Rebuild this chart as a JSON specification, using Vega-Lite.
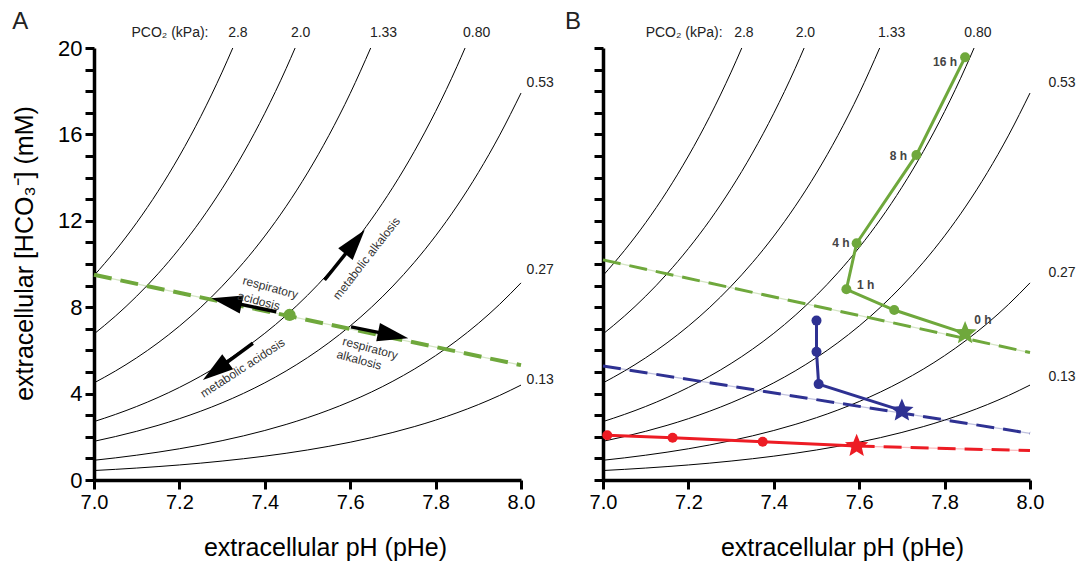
{
"$schema": "https://vega.github.io/schema/vega-lite/v6.json",
"background": "white",
"padding": {"left": 12, "top": 10, "right": 5, "bottom": 5},
"spacing": 11,
"config": {"font": "Liberation Sans", "view": {"stroke": null}, "axis": {"grid": false, "domainColor": "black", "tickColor": "black", "labelColor": "black", "titleColor": "black", "titleFontWeight": "normal", "domainWidth": 3.5, "tickWidth": 3, "tickSize": 9, "labelFlush": false}},
"datasets": {
"iso": [
{"P":"2.8","pH":7.00,"hco3":9.464},{"P":"2.8","pH":7.05,"hco3":10.619},{"P":"2.8","pH":7.10,"hco3":11.914},{"P":"2.8","pH":7.15,"hco3":13.368},{"P":"2.8","pH":7.20,"hco3":15.0},{"P":"2.8","pH":7.25,"hco3":16.829},{"P":"2.8","pH":7.30,"hco3":18.883},{"P":"2.8","pH":7.325,"hco3":20.0},
{"P":"2.0","pH":7.00,"hco3":6.76},{"P":"2.0","pH":7.05,"hco3":7.585},{"P":"2.0","pH":7.10,"hco3":8.51},{"P":"2.0","pH":7.15,"hco3":9.549},{"P":"2.0","pH":7.20,"hco3":10.714},{"P":"2.0","pH":7.25,"hco3":12.021},{"P":"2.0","pH":7.30,"hco3":13.488},{"P":"2.0","pH":7.35,"hco3":15.134},{"P":"2.0","pH":7.40,"hco3":16.98},{"P":"2.0","pH":7.45,"hco3":19.052},{"P":"2.0","pH":7.471,"hco3":20.0},
{"P":"1.33","pH":7.00,"hco3":4.495},{"P":"1.33","pH":7.05,"hco3":5.044},{"P":"1.33","pH":7.10,"hco3":5.659},{"P":"1.33","pH":7.15,"hco3":6.35},{"P":"1.33","pH":7.20,"hco3":7.125},{"P":"1.33","pH":7.25,"hco3":7.994},{"P":"1.33","pH":7.30,"hco3":8.97},{"P":"1.33","pH":7.35,"hco3":10.064},{"P":"1.33","pH":7.40,"hco3":11.292},{"P":"1.33","pH":7.45,"hco3":12.67},{"P":"1.33","pH":7.50,"hco3":14.216},{"P":"1.33","pH":7.55,"hco3":15.95},{"P":"1.33","pH":7.60,"hco3":17.897},{"P":"1.33","pH":7.648,"hco3":20.0},
{"P":"0.80","pH":7.00,"hco3":2.704},{"P":"0.80","pH":7.05,"hco3":3.034},{"P":"0.80","pH":7.10,"hco3":3.404},{"P":"0.80","pH":7.15,"hco3":3.82},{"P":"0.80","pH":7.20,"hco3":4.286},{"P":"0.80","pH":7.25,"hco3":4.808},{"P":"0.80","pH":7.30,"hco3":5.395},{"P":"0.80","pH":7.35,"hco3":6.054},{"P":"0.80","pH":7.40,"hco3":6.792},{"P":"0.80","pH":7.45,"hco3":7.621},{"P":"0.80","pH":7.50,"hco3":8.551},{"P":"0.80","pH":7.55,"hco3":9.594},{"P":"0.80","pH":7.60,"hco3":10.765},{"P":"0.80","pH":7.65,"hco3":12.078},{"P":"0.80","pH":7.70,"hco3":13.552},{"P":"0.80","pH":7.75,"hco3":15.206},{"P":"0.80","pH":7.80,"hco3":17.061},{"P":"0.80","pH":7.85,"hco3":19.143},{"P":"0.80","pH":7.869,"hco3":20.0},
{"P":"0.53","pH":7.00,"hco3":1.791},{"P":"0.53","pH":7.05,"hco3":2.01},{"P":"0.53","pH":7.10,"hco3":2.255},{"P":"0.53","pH":7.15,"hco3":2.53},{"P":"0.53","pH":7.20,"hco3":2.839},{"P":"0.53","pH":7.25,"hco3":3.186},{"P":"0.53","pH":7.30,"hco3":3.574},{"P":"0.53","pH":7.35,"hco3":4.01},{"P":"0.53","pH":7.40,"hco3":4.5},{"P":"0.53","pH":7.45,"hco3":5.049},{"P":"0.53","pH":7.50,"hco3":5.665},{"P":"0.53","pH":7.55,"hco3":6.356},{"P":"0.53","pH":7.60,"hco3":7.132},{"P":"0.53","pH":7.65,"hco3":8.002},{"P":"0.53","pH":7.70,"hco3":8.978},{"P":"0.53","pH":7.75,"hco3":10.074},{"P":"0.53","pH":7.80,"hco3":11.303},{"P":"0.53","pH":7.85,"hco3":12.682},{"P":"0.53","pH":7.90,"hco3":14.23},{"P":"0.53","pH":7.95,"hco3":15.966},{"P":"0.53","pH":8.00,"hco3":17.914},
{"P":"0.27","pH":7.00,"hco3":0.913},{"P":"0.27","pH":7.05,"hco3":1.024},{"P":"0.27","pH":7.10,"hco3":1.149},{"P":"0.27","pH":7.15,"hco3":1.289},{"P":"0.27","pH":7.20,"hco3":1.446},{"P":"0.27","pH":7.25,"hco3":1.623},{"P":"0.27","pH":7.30,"hco3":1.821},{"P":"0.27","pH":7.35,"hco3":2.043},{"P":"0.27","pH":7.40,"hco3":2.292},{"P":"0.27","pH":7.45,"hco3":2.572},{"P":"0.27","pH":7.50,"hco3":2.886},{"P":"0.27","pH":7.55,"hco3":3.238},{"P":"0.27","pH":7.60,"hco3":3.633},{"P":"0.27","pH":7.65,"hco3":4.076},{"P":"0.27","pH":7.70,"hco3":4.574},{"P":"0.27","pH":7.75,"hco3":5.132},{"P":"0.27","pH":7.80,"hco3":5.758},{"P":"0.27","pH":7.85,"hco3":6.461},{"P":"0.27","pH":7.90,"hco3":7.249},{"P":"0.27","pH":7.95,"hco3":8.134},{"P":"0.27","pH":8.00,"hco3":9.126},
{"P":"0.13","pH":7.00,"hco3":0.439},{"P":"0.13","pH":7.05,"hco3":0.493},{"P":"0.13","pH":7.10,"hco3":0.553},{"P":"0.13","pH":7.15,"hco3":0.621},{"P":"0.13","pH":7.20,"hco3":0.696},{"P":"0.13","pH":7.25,"hco3":0.781},{"P":"0.13","pH":7.30,"hco3":0.877},{"P":"0.13","pH":7.35,"hco3":0.984},{"P":"0.13","pH":7.40,"hco3":1.104},{"P":"0.13","pH":7.45,"hco3":1.238},{"P":"0.13","pH":7.50,"hco3":1.39},{"P":"0.13","pH":7.55,"hco3":1.559},{"P":"0.13","pH":7.60,"hco3":1.749},{"P":"0.13","pH":7.65,"hco3":1.963},{"P":"0.13","pH":7.70,"hco3":2.202},{"P":"0.13","pH":7.75,"hco3":2.471},{"P":"0.13","pH":7.80,"hco3":2.772},{"P":"0.13","pH":7.85,"hco3":3.111},{"P":"0.13","pH":7.90,"hco3":3.49},{"P":"0.13","pH":7.95,"hco3":3.916},{"P":"0.13","pH":8.00,"hco3":4.394}
],
"labelsA": [
{"label":"PCO₂ (kPa):","pH":7.178,"hco3":20.7},{"label":"2.8","pH":7.337,"hco3":20.7},{"label":"2.0","pH":7.484,"hco3":20.7},{"label":"1.33","pH":7.678,"hco3":20.7},{"label":"0.80","pH":7.896,"hco3":20.7},
{"label":"0.53","pH":8.045,"hco3":18.38},{"label":"0.27","pH":8.045,"hco3":9.72},{"label":"0.13","pH":8.045,"hco3":4.63}
],
"labelsB": [
{"label":"PCO₂ (kPa):","pH":7.19,"hco3":20.7},{"label":"2.8","pH":7.33,"hco3":20.7},{"label":"2.0","pH":7.474,"hco3":20.7},{"label":"1.33","pH":7.676,"hco3":20.7},{"label":"0.80","pH":7.878,"hco3":20.7},
{"label":"0.53","pH":8.075,"hco3":18.38},{"label":"0.27","pH":8.075,"hco3":9.58},{"label":"0.13","pH":8.075,"hco3":4.77}
],
"panelA": [{"label":"A","pH":6.827,"hco3":21.2}],
"panelB": [{"label":"B","pH":6.93,"hco3":21.2}],
"bufferA": [{"pH":7.0,"hco3":9.5},{"pH":8.0,"hco3":5.32}],
"arrows": [
{"name":"ra","pH":7.427,"hco3":7.79,"pH2":7.298,"hco32":8.32},
{"name":"ma","pH":7.372,"hco3":6.33,"pH2":7.274,"hco32":4.9},
{"name":"mk","pH":7.54,"hco3":9.26,"pH2":7.619,"hco32":11.21},
{"name":"rk","pH":7.602,"hco3":7.09,"pH2":7.712,"hco32":6.65}
],
"heads": [
{"name":"ra","pH":7.275,"hco3":8.41},
{"name":"ma","pH":7.255,"hco3":4.63},
{"name":"mk","pH":7.634,"hco3":11.57},
{"name":"rk","pH":7.736,"hco3":6.56}
],
"controlA": [{"pH":7.458,"hco3":7.64}],
"annoFlat": [
{"label":"respiratory","pH":7.413,"hco3":8.91},{"label":"acidosis","pH":7.386,"hco3":8.29},
{"label":"respiratory","pH":7.647,"hco3":6.1},{"label":"alkalosis","pH":7.621,"hco3":5.56}
],
"annoMk": [{"label":"metabolic alkalosis","pH":7.638,"hco3":10.26}],
"annoMa": [{"label":"metabolic acidosis","pH":7.348,"hco3":5.19}],
"buffers": [
{"series":"green","pH":7.0,"hco3":10.19},{"series":"green","pH":8.0,"hco3":5.9},
{"series":"blue","pH":7.0,"hco3":5.28},{"series":"blue","pH":8.0,"hco3":2.16},
{"series":"red","pH":7.594,"hco3":1.57},{"series":"red","pH":8.0,"hco3":1.36}
],
"traj": [
{"series":"green","i":0,"start":true,"pH":7.848,"hco3":6.79},{"series":"green","i":1,"start":false,"pH":7.682,"hco3":7.87},{"series":"green","i":2,"start":false,"pH":7.57,"hco3":8.83},{"series":"green","i":3,"start":false,"pH":7.594,"hco3":10.96},{"series":"green","i":4,"start":false,"pH":7.734,"hco3":15.05},{"series":"green","i":5,"start":false,"pH":7.848,"hco3":19.57},
{"series":"blue","i":0,"start":true,"pH":7.70,"hco3":3.21},{"series":"blue","i":1,"start":false,"pH":7.505,"hco3":4.44},{"series":"blue","i":2,"start":false,"pH":7.50,"hco3":5.94},{"series":"blue","i":3,"start":false,"pH":7.50,"hco3":7.38},
{"series":"red","i":0,"start":true,"pH":7.594,"hco3":1.57},{"series":"red","i":1,"start":false,"pH":7.374,"hco3":1.77},{"series":"red","i":2,"start":false,"pH":7.163,"hco3":1.96},{"series":"red","i":3,"start":false,"pH":7.01,"hco3":2.07}
],
"times": [
{"label":"16 h","pH":7.801,"hco3":19.35},{"label":"8 h","pH":7.692,"hco3":15.01},{"label":"4 h","pH":7.557,"hco3":10.96},{"label":"1 h","pH":7.615,"hco3":9.03},{"label":"0 h","pH":7.89,"hco3":7.41}
]
},
"hconcat": [
{
"width": 427, "height": 432,
"encoding": {
"x": {"field": "pH", "type": "quantitative", "scale": {"domain": [7, 8], "nice": false, "zero": false}, "axis": {"title": "extracellular pH (pHe)", "values": [7, 7.2, 7.4, 7.6, 7.8, 8], "format": ".1f", "labelFontSize": 20, "titleFontSize": 25, "labelPadding": 3, "titlePadding": 23, "titleX": 231}},
"y": {"field": "hco3", "type": "quantitative", "scale": {"domain": [0, 20], "nice": false, "zero": false}, "axis": {"title": "extracellular [HCO₃⁻] (mM)", "values": [0,1,2,3,4,5,6,7,8,9,10,11,12,13,14,15,16,17,18,19,20], "labelExpr": "datum.value % 4 === 0 ? datum.label : ''", "labelFontSize": 22, "titleFontSize": 25, "labelPadding": 3, "titlePadding": 20, "titleY": 205}}
},
"layer": [
{"data": {"name": "iso"}, "mark": {"type": "line", "color": "black", "strokeWidth": 1, "interpolate": "monotone"}, "encoding": {"detail": {"field": "P"}}},
{"data": {"name": "bufferA"}, "mark": {"type": "line", "color": "#6fa83c", "strokeWidth": 1.2, "opacity": 0.3}, "encoding": {}},
{"data": {"name": "bufferA"}, "mark": {"type": "line", "color": "#6fa83c", "strokeWidth": 4, "strokeDash": [18, 9]}, "encoding": {}},
{"data": {"name": "arrows"}, "mark": {"type": "rule", "color": "black", "strokeWidth": 3.5}, "encoding": {"x2": {"field": "pH2"}, "y2": {"field": "hco32"}}},
{"data": {"name": "heads"}, "transform": [{"filter": "datum.name === 'ra'"}], "mark": {"type": "point", "shape": "M0,0L0.3,1L-0.3,1Z", "size": 3800, "filled": true, "color": "black", "opacity": 1, "angle": 281.6}},
{"data": {"name": "heads"}, "transform": [{"filter": "datum.name === 'ma'"}], "mark": {"type": "point", "shape": "M0,0L0.3,1L-0.3,1Z", "size": 3800, "filled": true, "color": "black", "opacity": 1, "angle": 233.7}},
{"data": {"name": "heads"}, "transform": [{"filter": "datum.name === 'mk'"}], "mark": {"type": "point", "shape": "M0,0L0.3,1L-0.3,1Z", "size": 3800, "filled": true, "color": "black", "opacity": 1, "angle": 38.7}},
{"data": {"name": "heads"}, "transform": [{"filter": "datum.name === 'rk'"}], "mark": {"type": "point", "shape": "M0,0L0.3,1L-0.3,1Z", "size": 3800, "filled": true, "color": "black", "opacity": 1, "angle": 101.6}},
{"data": {"name": "controlA"}, "mark": {"type": "point", "shape": "circle", "size": 150, "filled": true, "color": "#6fa83c", "opacity": 1}},
{"data": {"name": "annoFlat"}, "mark": {"type": "text", "fontSize": 12, "color": "#333", "angle": 15}, "encoding": {"text": {"field": "label"}}},
{"data": {"name": "annoMk"}, "mark": {"type": "text", "fontSize": 12, "color": "#333", "angle": 308}, "encoding": {"text": {"field": "label"}}},
{"data": {"name": "annoMa"}, "mark": {"type": "text", "fontSize": 12, "color": "#333", "angle": 327}, "encoding": {"text": {"field": "label"}}},
{"data": {"name": "labelsA"}, "mark": {"type": "text", "fontSize": 14, "color": "#222"}, "encoding": {"text": {"field": "label"}}},
{"data": {"name": "panelA"}, "mark": {"type": "text", "fontSize": 24, "color": "#222"}, "encoding": {"text": {"field": "label"}}}
]
},
{
"width": 427, "height": 432,
"encoding": {
"x": {"field": "pH", "type": "quantitative", "scale": {"domain": [7, 8], "nice": false, "zero": false}, "axis": {"title": "extracellular pH (pHe)", "values": [7, 7.2, 7.4, 7.6, 7.8, 8], "format": ".1f", "labelFontSize": 20, "titleFontSize": 25, "labelPadding": 3, "titlePadding": 23, "titleX": 239}},
"y": {"field": "hco3", "type": "quantitative", "scale": {"domain": [0, 20], "nice": false, "zero": false}, "axis": {"title": null, "labels": false, "values": [0,1,2,3,4,5,6,7,8,9,10,11,12,13,14,15,16,17,18,19,20]}}
},
"layer": [
{"data": {"name": "iso"}, "mark": {"type": "line", "color": "black", "strokeWidth": 1, "interpolate": "monotone"}, "encoding": {"detail": {"field": "P"}}},
{"data": {"name": "buffers"}, "mark": {"type": "line", "strokeWidth": 1.2, "opacity": 0.3}, "encoding": {"detail": {"field": "series"}, "color": {"field": "series", "type": "nominal", "scale": {"domain": ["green", "blue", "red"], "range": ["#6fa83c", "#2e3192", "#ed1c24"]}, "legend": null}}},
{"data": {"name": "buffers"}, "mark": {"type": "line", "strokeWidth": 3, "strokeDash": [18, 9]}, "encoding": {"detail": {"field": "series"}, "color": {"field": "series", "type": "nominal", "scale": {"domain": ["green", "blue", "red"], "range": ["#6fa83c", "#2e3192", "#ed1c24"]}, "legend": null}}},
{"data": {"name": "traj"}, "mark": {"type": "line", "strokeWidth": 3}, "encoding": {"detail": {"field": "series"}, "order": {"field": "i", "type": "quantitative"}, "color": {"field": "series", "type": "nominal", "scale": {"domain": ["green", "blue", "red"], "range": ["#6fa83c", "#2e3192", "#ed1c24"]}, "legend": null}}},
{"data": {"name": "traj"}, "transform": [{"filter": "!datum.start"}], "mark": {"type": "point", "shape": "circle", "size": 100, "filled": true, "opacity": 1}, "encoding": {"color": {"field": "series", "type": "nominal", "scale": {"domain": ["green", "blue", "red"], "range": ["#6fa83c", "#2e3192", "#ed1c24"]}, "legend": null}}},
{"data": {"name": "traj"}, "transform": [{"filter": "datum.start"}], "mark": {"type": "point", "shape": "M0,-1L0.265,-0.364L0.951,-0.309L0.428,0.139L0.588,0.809L0,0.45L-0.588,0.809L-0.428,0.139L-0.951,-0.309L-0.265,-0.364Z", "size": 600, "filled": true, "opacity": 1}, "encoding": {"color": {"field": "series", "type": "nominal", "scale": {"domain": ["green", "blue", "red"], "range": ["#6fa83c", "#2e3192", "#ed1c24"]}, "legend": null}}},
{"data": {"name": "times"}, "mark": {"type": "text", "fontSize": 12, "fontWeight": "bold", "color": "#444"}, "encoding": {"text": {"field": "label"}}},
{"data": {"name": "labelsB"}, "mark": {"type": "text", "fontSize": 14, "color": "#222"}, "encoding": {"text": {"field": "label"}}},
{"data": {"name": "panelB"}, "mark": {"type": "text", "fontSize": 24, "color": "#222"}, "encoding": {"text": {"field": "label"}}}
]
}
]
}
